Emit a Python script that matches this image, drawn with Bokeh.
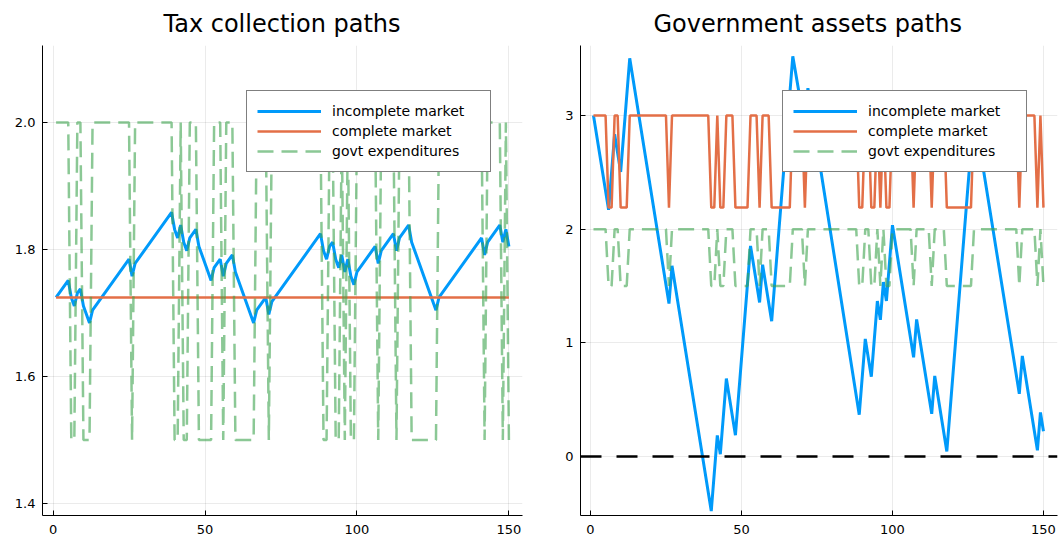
from bokeh.plotting import figure
from bokeh.layouts import row
from bokeh.models import Span, Legend, LegendItem, FixedTicker, Range1d
from bokeh.embed import file_html
from bokeh.resources import INLINE

# ---------------- data ----------------
periods = list(range(1, 151))

govt_exp = [
    2.0, 2.0, 2.0, 2.0, 2.0, 1.5, 1.5, 2.0, 2.0, 1.5,
    1.5, 1.5, 2.0, 2.0, 2.0, 2.0, 2.0, 2.0, 2.0, 2.0,
    2.0, 2.0, 2.0, 2.0, 2.0, 1.5, 2.0, 2.0, 2.0, 2.0,
    2.0, 2.0, 2.0, 2.0, 2.0, 2.0, 2.0, 2.0, 2.0, 1.5,
    1.5, 2.0, 1.5, 1.5, 2.0, 2.0, 2.0, 1.5, 1.5, 1.5,
    1.5, 1.5, 2.0, 2.0, 2.0, 1.5, 2.0, 2.0, 2.0, 1.5,
    1.5, 1.5, 1.5, 1.5, 1.5, 1.5, 2.0, 2.0, 2.0, 2.0,
    1.5, 2.0, 2.0, 2.0, 2.0, 2.0, 2.0, 2.0, 2.0, 2.0,
    2.0, 2.0, 2.0, 2.0, 2.0, 2.0, 2.0, 2.0, 1.5, 1.5,
    2.0, 2.0, 1.5, 1.5, 2.0, 1.5, 2.0, 1.5, 1.5, 2.0,
    2.0, 2.0, 2.0, 2.0, 2.0, 2.0, 1.5, 2.0, 2.0, 2.0,
    2.0, 2.0, 1.5, 2.0, 2.0, 2.0, 2.0, 1.5, 1.5, 1.5,
    1.5, 1.5, 1.5, 1.5, 1.5, 1.5, 2.0, 2.0, 2.0, 2.0,
    2.0, 2.0, 2.0, 2.0, 2.0, 2.0, 2.0, 2.0, 2.0, 2.0,
    2.0, 1.5, 2.0, 2.0, 2.0, 2.0, 2.0, 1.5, 2.0, 1.5,
]

complete_assets = [
    3.0, 3.0, 3.0, 3.0, 3.0, 2.19, 2.19, 3.0, 3.0, 2.19,
    2.19, 2.19, 3.0, 3.0, 3.0, 3.0, 3.0, 3.0, 3.0, 3.0,
    3.0, 3.0, 3.0, 3.0, 3.0, 2.19, 3.0, 3.0, 3.0, 3.0,
    3.0, 3.0, 3.0, 3.0, 3.0, 3.0, 3.0, 3.0, 3.0, 2.19,
    2.19, 3.0, 2.19, 2.19, 3.0, 3.0, 3.0, 2.19, 2.19, 2.19,
    2.19, 2.19, 3.0, 3.0, 3.0, 2.19, 3.0, 3.0, 3.0, 2.19,
    2.19, 2.19, 2.19, 2.19, 2.19, 2.19, 3.0, 3.0, 3.0, 3.0,
    2.19, 3.0, 3.0, 3.0, 3.0, 3.0, 3.0, 3.0, 3.0, 3.0,
    3.0, 3.0, 3.0, 3.0, 3.0, 3.0, 3.0, 3.0, 2.19, 2.19,
    3.0, 3.0, 2.19, 2.19, 3.0, 2.19, 3.0, 2.19, 2.19, 3.0,
    3.0, 3.0, 3.0, 3.0, 3.0, 3.0, 2.19, 3.0, 3.0, 3.0,
    3.0, 3.0, 2.19, 3.0, 3.0, 3.0, 3.0, 2.19, 2.19, 2.19,
    2.19, 2.19, 2.19, 2.19, 2.19, 2.19, 3.0, 3.0, 3.0, 3.0,
    3.0, 3.0, 3.0, 3.0, 3.0, 3.0, 3.0, 3.0, 3.0, 3.0,
    3.0, 2.19, 3.0, 3.0, 3.0, 3.0, 3.0, 2.19, 3.0, 2.19,
]

# incomplete-market tax path (turning points)
tax_inc_t = [1, 5, 6, 7, 8, 9, 10, 12, 13, 25, 26, 27, 39, 40, 41, 42, 43, 44, 45, 47,
             48, 52, 53, 55, 56, 57, 59, 60, 66, 67, 70, 71, 72, 88, 89, 90, 91, 92,
             93, 94, 95, 96, 97, 98, 99, 100, 106, 107, 108, 112, 113, 114, 117, 118,
             126, 127, 141, 142, 143, 147, 148, 149, 150]
tax_inc_v = [1.7245, 1.7513, 1.7245, 1.7111, 1.7312, 1.7379, 1.7111, 1.6843, 1.7044,
             1.7848, 1.7580, 1.7781, 1.8585, 1.8317, 1.8183, 1.8384, 1.8116, 1.7982,
             1.8183, 1.8317, 1.8049, 1.7513, 1.7714, 1.7848, 1.7580, 1.7781, 1.7915,
             1.7647, 1.6843, 1.7044, 1.7245, 1.6977, 1.7178, 1.8250, 1.7982, 1.7848,
             1.8049, 1.8116, 1.7848, 1.7714, 1.7915, 1.7647, 1.7848, 1.7580, 1.7446,
             1.7647, 1.8049, 1.7781, 1.7982, 1.8250, 1.7982, 1.8183, 1.8384, 1.8116,
             1.7044, 1.7245, 1.8183, 1.7915, 1.8116, 1.8384, 1.8116, 1.8317, 1.8049]

# complete-market tax path (constant)
tax_comp_t = [1, 150]
tax_comp_v = [1.7245, 1.7245]

# incomplete-market government assets (turning points)
assets_inc_t = [1, 6, 8, 10, 13, 26, 27, 40, 42, 43, 45, 48, 53, 56, 57, 60, 67, 71, 72,
                89, 91, 93, 95, 96, 97, 98, 100, 107, 108, 113, 114, 118, 127, 142, 143,
                148, 149, 150]
assets_inc_v = [3.0, 2.17, 2.836, 2.504, 3.503, 1.345, 1.678, -0.48, 0.186, 0.02, 0.686,
                0.188, 1.853, 1.355, 1.688, 1.19, 3.521, 2.90, 3.24, 0.368, 1.034, 0.702,
                1.368, 1.202, 1.535, 1.369, 2.035, 0.873, 1.206, 0.376, 0.709, 0.045,
                3.042, 0.552, 0.885, 0.055, 0.388, 0.222]

zero_level = 0.0

x_ticks = [0, 50, 100, 150]
tax_y_ticks = [1.4, 1.6, 1.8, 2.0]
assets_y_ticks = [0, 1, 2, 3]

labels = ["incomplete market", "complete market", "govt expenditures"]

# ---------------- style ----------------
FONT = "DejaVu Sans"
BLUE = "#009AFA"
ORANGE = "#E36F47"
GREEN = "#3EA44E"


def style(p, yticks, ylabels):
    p.outline_line_color = None
    p.background_fill_color = "white"
    p.border_fill_color = "white"
    p.xaxis.ticker = FixedTicker(ticks=x_ticks)
    p.yaxis.ticker = FixedTicker(ticks=yticks)
    p.yaxis.major_label_overrides = ylabels
    for ax in (p.xaxis[0], p.yaxis[0]):
        ax.axis_line_color = "black"
        ax.axis_line_width = 1
        ax.major_tick_in = 5
        ax.major_tick_out = 0
        ax.major_tick_line_color = "black"
        ax.minor_tick_line_color = None
        ax.major_label_text_font = FONT
        ax.major_label_text_font_size = "13px"
        ax.major_label_text_color = "black"
    p.xaxis.major_label_standoff = 9
    p.yaxis.major_label_standoff = 7
    for g in (p.xgrid[0], p.ygrid[0]):
        g.grid_line_color = "black"
        g.grid_line_alpha = 0.1
        g.grid_line_width = 0.8
    p.title.text_font = FONT
    p.title.text_font_size = "24px"
    p.title.text_font_style = "normal"
    p.title.text_color = "black"
    p.title.align = "left"
    p.title.standoff = 15


def add_legend(p, renderers, xloc):
    items = [LegendItem(label=l, renderers=[r]) for l, r in zip(labels, renderers)]
    leg = Legend(items=items, location=(xloc, 343))
    leg.label_text_font = FONT
    leg.label_text_font_size = "14px"
    leg.label_text_color = "black"
    leg.glyph_width = 64
    leg.glyph_height = 20
    leg.label_height = 20
    leg.label_width = 148
    leg.label_standoff = 11
    leg.padding = 10
    leg.spacing = 0
    leg.margin = 0
    leg.border_line_color = "black"
    leg.border_line_width = 1.2
    leg.background_fill_color = "white"
    leg.background_fill_alpha = 1.0
    p.add_layout(leg)


# ---------------- left: tax ----------------
p1 = figure(width=545, height=540, output_backend="svg", toolbar_location=None,
            x_range=Range1d(-3.47, 154.47), y_range=Range1d(1.3811, 2.1213),
            min_border_left=42, min_border_right=23, min_border_top=45, min_border_bottom=25,
            title="Tax collection paths")
r1 = p1.line(tax_inc_t, tax_inc_v, color=BLUE, line_width=3)
r2 = p1.line(tax_comp_t, tax_comp_v, color=ORANGE, line_width=2.5)
r3 = p1.line(periods, govt_exp, color=GREEN, alpha=0.6, line_width=2.5, line_dash="16 8")
style(p1, tax_y_ticks, {1.4: "1.4", 1.6: "1.6", 1.8: "1.8", 2.0: "2.0"})
p1.title.offset = 121
add_legend(p1, [r1, r2, r3], 204)

# ---------------- right: assets ----------------
p2 = figure(width=514, height=540, output_backend="svg", toolbar_location=None,
            x_range=Range1d(-3.3, 154.65), y_range=Range1d(-0.519, 3.616),
            min_border_left=35, min_border_right=2, min_border_top=45, min_border_bottom=25,
            title="Government assets paths")
q1 = p2.line(assets_inc_t, assets_inc_v, color=BLUE, line_width=3)
q2 = p2.line(periods, complete_assets, color=ORANGE, line_width=2.5)
q3 = p2.line(periods, govt_exp, color=GREEN, alpha=0.6, line_width=2.5, line_dash="16 8")
p2.add_layout(Span(location=zero_level, dimension="width", line_color="black",
                   line_width=2.5, line_dash="21 15"))
style(p2, assets_y_ticks, {0: "0", 1: "1", 2: "2", 3: "3"})
p2.title.offset = 73
add_legend(p2, [q1, q2, q3], 202)

layout = row(p1, p2, spacing=0)
open("out.html", "w").write(file_html(layout, INLINE))
